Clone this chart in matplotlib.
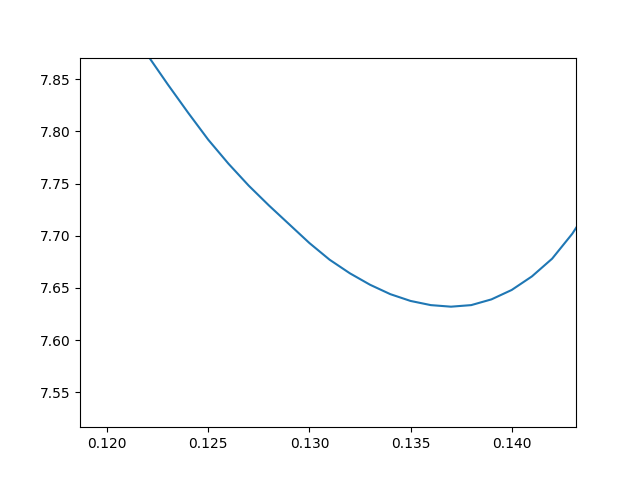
import matplotlib

matplotlib.use("Agg")
import matplotlib.pyplot as plt

# values
x_values = [
    0.121, 0.122, 0.123, 0.124, 0.125, 0.126, 0.127, 0.128,
    0.129, 0.130, 0.131, 0.132, 0.133, 0.134, 0.135, 0.136,
    0.137, 0.138, 0.139, 0.140, 0.141, 0.142, 0.143, 0.144,
]

y_values = [
    7.903, 7.873, 7.845, 7.818, 7.792, 7.769, 7.748, 7.729,
    7.711, 7.693, 7.677, 7.664, 7.653, 7.644, 7.6375, 7.6335,
    7.632, 7.6335, 7.639, 7.648, 7.661, 7.678, 7.702, 7.732,
]

x_limits = (0.11866, 0.14318)
y_limits = (7.5165, 7.8707)


def main():

    fig, ax = plt.subplots(figsize=(6.4, 4.8), dpi=100)

    ax.plot(x_values, y_values)

    ax.set_xlim(*x_limits)
    ax.set_ylim(*y_limits)

    fig.savefig("out.png")

    plt.close(fig)


if __name__ == "__main__":
    main()
